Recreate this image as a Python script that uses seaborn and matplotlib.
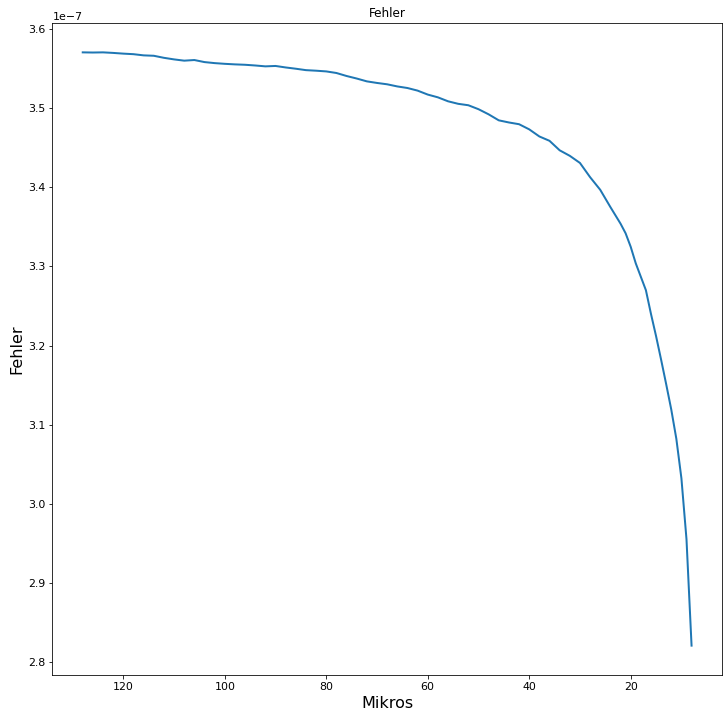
import matplotlib
matplotlib.use("Agg")
import matplotlib.pyplot as plt
import seaborn as sns
import pandas as pd

# Data (Fehler in units of 1e-7)
mikros = [128, 126, 124, 122, 120, 118, 116, 114, 112, 110, 108, 106, 104, 102,
          100, 98, 96, 94, 92, 90, 88, 86, 84, 82, 80, 78, 76, 74, 72, 70, 68,
          66, 64, 62, 60, 58, 56, 54, 52, 50, 48, 46, 44, 42, 40, 38, 36, 34,
          32, 30, 28, 26, 24, 22, 21, 20, 19, 18, 17, 16, 15, 14, 13, 12, 11,
          10, 9, 8]
fehler_e7 = [3.5709, 3.5707, 3.5709, 3.5702, 3.5693, 3.5686, 3.5671, 3.5666,
             3.5640, 3.5620, 3.5604, 3.5612, 3.5586, 3.5573, 3.5564, 3.5557,
             3.5552, 3.5543, 3.5532, 3.5537, 3.5518, 3.5502, 3.5484, 3.5477,
             3.5468, 3.5448, 3.5410, 3.5378, 3.5342, 3.5322, 3.5305, 3.5278,
             3.5258, 3.5225, 3.5175, 3.5140, 3.5090, 3.5058, 3.5040, 3.4990,
             3.4925, 3.4849, 3.4822, 3.4800, 3.4735, 3.4645, 3.4590, 3.4470,
             3.4400, 3.4310, 3.4130, 3.3970, 3.3752, 3.3542, 3.3420, 3.3250,
             3.3040, 3.2870, 3.2700, 3.2400, 3.2120, 3.1820, 3.1510, 3.1190,
             3.0820, 3.0320, 2.9550, 2.8203]

df = pd.DataFrame({"Mikros": mikros, "Fehler": [v * 1e-7 for v in fehler_e7]})

fig = plt.figure(figsize=(728 / 72, 721 / 72), dpi=72)
ax = fig.add_axes([52.3 / 728, 1 - 675.3 / 721, (722 - 52.3) / 728, (675.3 - 22.7) / 721])

sns.lineplot(data=df, x="Mikros", y="Fehler", ax=ax, color="#1f77b4", linewidth=2)
ax.invert_xaxis()

ax.set_title("Fehler", fontsize=12)
ax.set_xlabel("Mikros", fontsize=16)
ax.set_ylabel("Fehler", fontsize=16)
ax.tick_params(labelsize=11)
ax.yaxis.get_offset_text().set_fontsize(11)

fig.savefig("out.png", dpi=72, facecolor="white")
